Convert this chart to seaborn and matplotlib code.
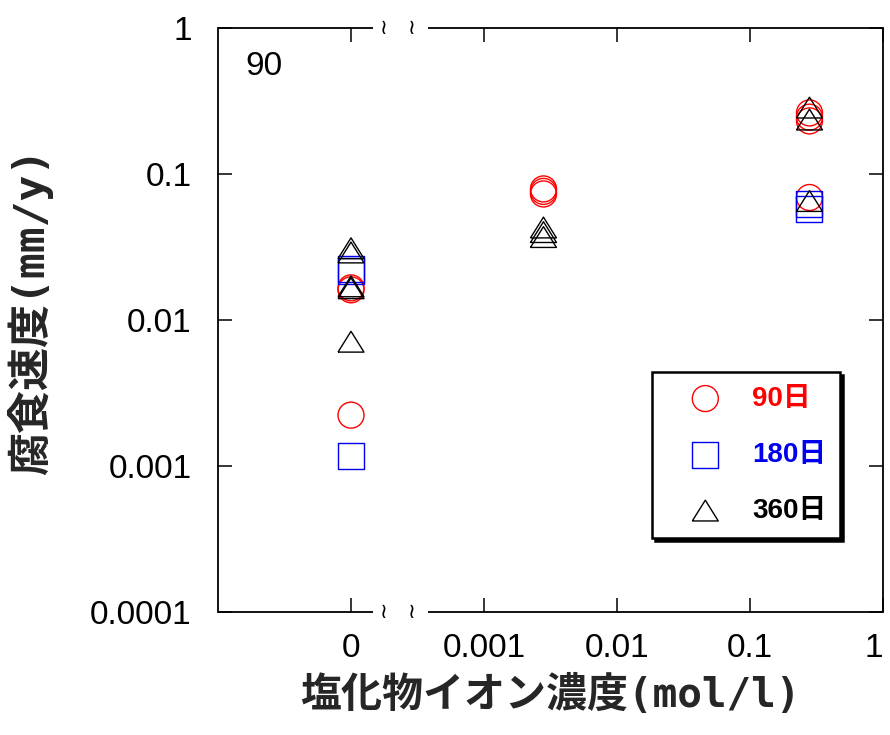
import numpy as np
import pandas as pd
import matplotlib
matplotlib.use("Agg")
import matplotlib.pyplot as plt
from matplotlib.ticker import FixedLocator, FixedFormatter, NullLocator
import seaborn as sns

# Chloride ion concentration (mol/l) and corrosion rate (mm/y) for each exposure period
conc_90 = [0, 0, 0, 0.0028, 0.0028, 0.0028, 0.28, 0.28, 0.28, 0.28]
rate_90 = [0.0166, 0.0161, 0.00223, 0.079, 0.076, 0.073, 0.262, 0.245, 0.231, 0.069]

conc_180 = [0, 0, 0, 0.28, 0.28]
rate_180 = [0.0225, 0.0218, 0.00117, 0.062, 0.058]

conc_360 = [0, 0, 0, 0, 0, 0.0028, 0.0028, 0.0028, 0.28, 0.28, 0.28]
rate_360 = [0.031, 0.029, 0.0170, 0.0165, 0.0071, 0.043, 0.040, 0.037, 0.285, 0.236, 0.0653]

periods = ["90日", "180日", "360日"]
colors = ["#ff0000", "#0000ee", "#000000"]

x_tick_values = [0, 0.001, 0.01, 0.1, 1]
x_tick_labels = ["0", "0.001", "0.01", "0.1", "1"]
y_tick_values = [0.0001, 0.001, 0.01, 0.1, 1]
y_tick_labels = ["0.0001", "0.001", "0.01", "0.1", "1"]
panel_label = "90"

# zero concentration is shown left of the axis break, one decade below 0.001
ZERO_AT = 1e-4


def axis_pos(c):
    c = np.asarray(c, dtype=float)
    return np.where(c == 0, ZERO_AT, c)


frames = []
for name, cx, ry in ((periods[0], conc_90, rate_90),
                     (periods[1], conc_180, rate_180),
                     (periods[2], conc_360, rate_360)):
    frames.append(pd.DataFrame({"conc": cx, "rate": ry, "period": name}))
df = pd.concat(frames, ignore_index=True)
df["xpos"] = axis_pos(df["conc"])

sns.set_theme(style="white")
plt.rcParams["font.family"] = ["Liberation Sans", "Noto Sans CJK JP", "DejaVu Sans"]
plt.rcParams["axes.unicode_minus"] = False

fig = plt.figure(figsize=(8.9, 7.35), dpi=100)
ax = fig.add_axes([218 / 890, 1 - 612 / 735, 665 / 890, 584 / 735])

triangle = [(-1, -0.8), (1, -0.8), (0, 0.8), (-1, -0.8)]
markers = {periods[0]: "o", periods[1]: "s", periods[2]: triangle}

for name, col in zip(periods, colors):
    sub = df[df["period"] == name]
    sns.scatterplot(data=sub, x="xpos", y="rate", ax=ax, marker=markers[name],
                    s=350, facecolor="none", edgecolor=col, color=col,
                    linewidth=1.0, label=name, legend=False, zorder=3)

ax.set_xscale("log")
ax.set_yscale("log")

ax.xaxis.set_major_locator(FixedLocator(axis_pos(x_tick_values)))
ax.xaxis.set_major_formatter(FixedFormatter(x_tick_labels))
ax.yaxis.set_major_locator(FixedLocator(y_tick_values))
ax.yaxis.set_major_formatter(FixedFormatter(y_tick_labels))
ax.xaxis.set_minor_locator(NullLocator())
ax.yaxis.set_minor_locator(NullLocator())

ax.tick_params(axis="both", which="major", direction="in", length=10, width=1.1,
               color="black", labelsize=24, labelcolor="black",
               top=True, right=True, bottom=True, left=True)
ax.tick_params(axis="y", pad=19)
ax.tick_params(axis="x", pad=15)

for side in ("left", "right"):
    ax.spines[side].set_color("black")
    ax.spines[side].set_linewidth(1.3)
for side in ("top", "bottom"):
    ax.spines[side].set_visible(False)

# broken top and bottom frame lines with the break marks
for yb in (0, 1):
    for x0, x1 in ((0, 0.233), (0.316, 1)):
        ax.plot([x0, x1], [yb, yb], transform=ax.transAxes, color="black",
                lw=1.3, clip_on=False, solid_capstyle="butt")
    for xm in (0.250, 0.292):
        ax.text(xm, yb, "≀", transform=ax.transAxes, ha="center", va="center",
                fontsize=15, family="DejaVu Sans", color="black")

ax.set_xlim(1e-5, 1)
ax.set_ylim(1e-4, 1)

# keep the label at the right edge inside the figure
ax.get_xticklabels()[-1].set_horizontalalignment("right")

ax.text(0.041, 0.960, panel_label, transform=ax.transAxes, ha="left", va="top",
        fontsize=24, color="black")

xlabel_font = {"family": ["DejaVu Sans Mono", "Noto Sans CJK JP"], "weight": "bold", "size": 29.5}
ylabel_font = {"family": ["DejaVu Sans Mono", "Noto Sans CJK JP"], "weight": "bold", "size": 31}
ax.set_xlabel("塩化物イオン濃度(mol/l)", fontdict=xlabel_font, labelpad=7)
ax.set_ylabel("腐食速度(mm/y)", fontdict=ylabel_font)
ax.yaxis.set_label_coords(-0.248, 0.514)

handles, labels = ax.get_legend_handles_labels()
leg = ax.legend(handles, labels, loc="upper left", bbox_to_anchor=(0.653, 0.411),
                borderaxespad=0, frameon=True, fancybox=False,
                shadow={"color": "black", "alpha": 1},
                prop={"family": ["Liberation Sans", "Noto Sans CJK JP"], "weight": "bold", "size": 20},
                handlelength=2.82, handletextpad=0.28, borderpad=0.5, labelspacing=1.08,
                scatterpoints=1, edgecolor="black", framealpha=1)
leg.get_frame().set_linewidth(1.8)
for t, c in zip(leg.get_texts(), colors):
    t.set_color(c)

fig.savefig("out.png", dpi=100, facecolor="white")
